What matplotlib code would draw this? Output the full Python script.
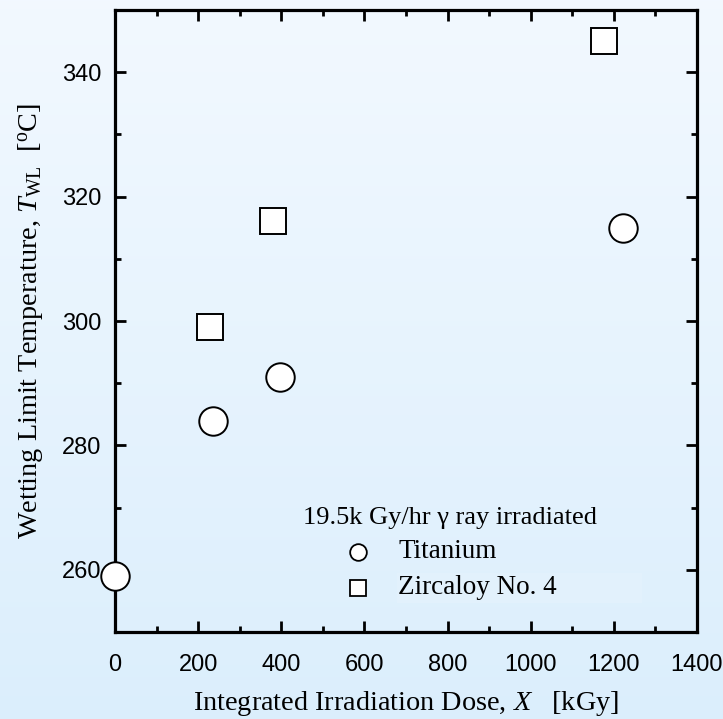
import numpy as np
import matplotlib
matplotlib.use("Agg")
import matplotlib.pyplot as plt
from matplotlib.ticker import MultipleLocator
from matplotlib.lines import Line2D
from matplotlib.patches import Rectangle

# Data
ti_dose = [0, 236, 397, 1222]
ti_temp = [259, 284, 291, 315]
zr_dose = [228, 380, 1176]
zr_temp = [299, 316, 345]

xticks = [0, 200, 400, 600, 800, 1000, 1200, 1400]
yticks = [260, 280, 300, 320, 340]

plt.rcParams['mathtext.fontset'] = 'custom'
plt.rcParams['mathtext.rm'] = 'Liberation Serif'
plt.rcParams['mathtext.it'] = 'Liberation Serif:italic'
plt.rcParams['mathtext.bf'] = 'Liberation Serif:bold'

fig = plt.figure(figsize=(7.23, 7.19), dpi=100)

# gradient background
bg = fig.add_axes([0, 0, 1, 1], zorder=-10)
top_c = np.array([0.95, 0.975, 1.0])
bot_c = np.array([0.86, 0.935, 0.99])
t = np.linspace(0, 1, 256)[:, None]
grad = top_c[None, :] * (1 - t) + bot_c[None, :] * t
bg.imshow(grad[:, None, :], aspect='auto', extent=[0, 1, 0, 1])
bg.axis('off')

ax = fig.add_axes([115/723, 1-632/719, (697-115)/723, (632-10)/719])
ax.patch.set_alpha(0)

ax.plot(ti_dose, ti_temp, 'o', ms=20.5, mfc='white', mec='black', mew=1.4, clip_on=False, zorder=5)
ax.plot(zr_dose, zr_temp, 's', ms=18.5, mfc='white', mec='black', mew=1.4, clip_on=False, zorder=5)

ax.set_xlim(0, 1400)
ax.set_ylim(250, 350)
ax.set_xticks(xticks)
ax.set_yticks(yticks)
ax.xaxis.set_minor_locator(MultipleLocator(100))
ax.yaxis.set_minor_locator(MultipleLocator(10))

for s in ax.spines.values():
    s.set_linewidth(2.3)
ax.tick_params(which='both', direction='in', top=True, right=True, width=2.0)
ax.tick_params(which='major', length=8)
ax.tick_params(which='minor', length=4)
ax.tick_params(axis='x', which='major', pad=16)
ax.tick_params(axis='y', which='major', pad=10)
for lab in ax.get_xticklabels() + ax.get_yticklabels():
    lab.set_fontfamily('Liberation Sans')
    lab.set_fontsize(17)

ax.set_xlabel(r"Integrated Irradiation Dose, $X$   [kGy]", fontfamily='Liberation Serif', fontsize=20.3, labelpad=9)
ax.set_ylabel(r"Wetting Limit Temperature, $T_{\rm WL}$  [$^{\rm o}$C]", fontfamily='Liberation Serif', fontsize=20.3, labelpad=11)

# subtle legend box
fig.patches.append(Rectangle((397/723, 1-603/719), (642-397)/723, 30/719,
                             transform=fig.transFigure, facecolor='white', alpha=0.12, edgecolor='none', zorder=1))

def fx(px):
    return px / 723
def fy(py):
    return 1 - py / 719

fig.text(fx(303), fy(518), "19.5k Gy/hr \u03b3 ray irradiated", fontfamily='Liberation Serif', fontsize=19, va='center', ha='left')
fig.add_artist(Line2D([fx(358)], [fy(552)], marker='o', ms=12, mfc='white', mec='black', mew=1.3, transform=fig.transFigure))
fig.add_artist(Line2D([fx(358)], [fy(588)], marker='s', ms=11.5, mfc='white', mec='black', mew=1.3, transform=fig.transFigure))
fig.text(fx(398), fy(552), "Titanium", fontfamily='Liberation Serif', fontsize=19.5, va='center', ha='left')
fig.text(fx(398), fy(588), "Zircaloy No. 4", fontfamily='Liberation Serif', fontsize=19.5, va='center', ha='left')

fig.savefig("out.png", dpi=100)
